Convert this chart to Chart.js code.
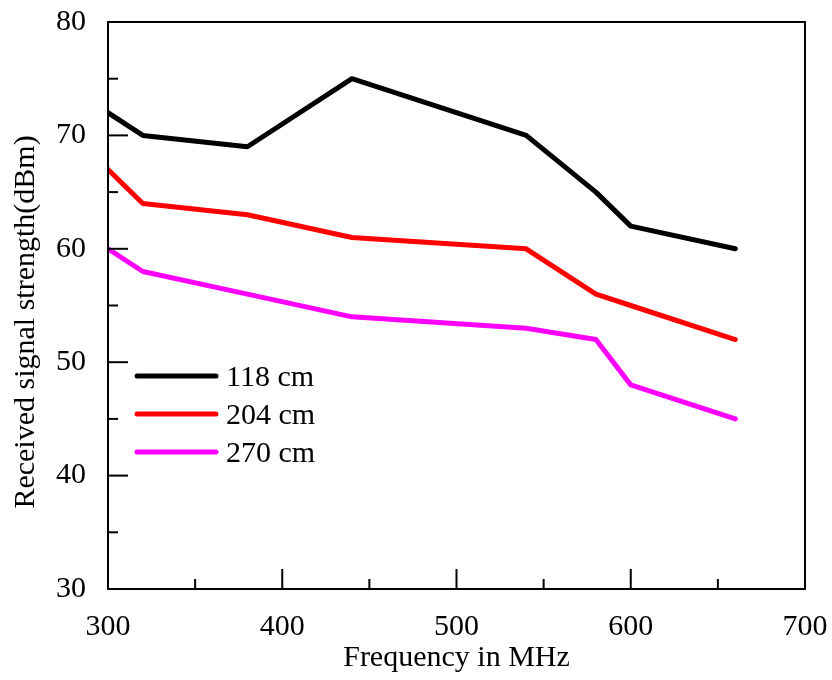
<!DOCTYPE html>
<html>
<head>
<meta charset="utf-8">
<script src="https://cdn.jsdelivr.net/npm/chart.js@4"></script>
<style>
  html, body { margin: 0; padding: 0; background: #fff; }
  #wrap { width: 832px; height: 680px; }
</style>
</head>
<body>
<div id="wrap"><canvas id="chart" width="832" height="680"></canvas></div>
<script>
const freqs = [300, 320, 380, 440, 540, 580, 600, 660];
const d118 = [72, 70, 69, 75, 70, 65, 62, 60];
const d204 = [67, 64, 63, 61, 60, 56, 55, 52];
const d270 = [60, 58, 56, 54, 53, 52, 48, 45];
const seriesNames = ["118 cm", "204 cm", "270 cm"];
const seriesColors = ["#000000", "#ff0000", "#ff00ff"];
const xTicks = [300, 400, 500, 600, 700];
const yTicks = [30, 40, 50, 60, 70, 80];
const yTitle = "Received signal strength(dBm)";

const FONT = "'Liberation Serif', 'Times New Roman', serif";

function toPoints(vals) {
  return freqs.map((f, i) => ({x: f, y: vals[i]}));
}

// frame, inward ticks, y title and legend
const decor = {
  id: "decor",
  afterDraw(chart) {
    const ctx = chart.ctx;
    const a = chart.chartArea;
    const xs = chart.scales.x, ys = chart.scales.y;
    ctx.save();
    ctx.strokeStyle = "#000";
    ctx.lineWidth = 2;
    ctx.strokeRect(a.left, a.top, a.right - a.left, a.bottom - a.top);

    for (let v = xTicks[0]; v <= xTicks[xTicks.length - 1]; v += 50) {
      const px = xs.getPixelForValue(v);
      const len = v % 100 === 0 ? 20 : 10;
      ctx.beginPath();
      ctx.moveTo(px, a.bottom);
      ctx.lineTo(px, a.bottom - len);
      ctx.stroke();
    }
    for (let v = yTicks[0]; v <= yTicks[yTicks.length - 1]; v += 5) {
      const py = ys.getPixelForValue(v);
      const len = v % 10 === 0 ? 20 : 10;
      ctx.beginPath();
      ctx.moveTo(a.left, py);
      ctx.lineTo(a.left + len, py);
      ctx.stroke();
    }

    // y title, sits a bit below the middle like the original
    ctx.font = "30px " + FONT;
    ctx.fillStyle = "#000";
    ctx.save();
    ctx.translate(26, 322);
    ctx.rotate(-Math.PI / 2);
    ctx.textAlign = "center";
    ctx.textBaseline = "middle";
    ctx.fillText(yTitle, 0, 0);
    ctx.restore();

    // legend
    ctx.textBaseline = "middle";
    ctx.textAlign = "left";
    chart.data.datasets.forEach((ds, i) => {
      const y = 376 + i * 38;
      ctx.strokeStyle = ds.borderColor;
      ctx.lineWidth = 5;
      ctx.lineCap = "round";
      ctx.beginPath();
      ctx.moveTo(137, y);
      ctx.lineTo(216, y);
      ctx.stroke();
      ctx.fillStyle = "#000";
      ctx.fillText(ds.label, 226, y + 2);
    });
    ctx.restore();
  }
};

new Chart(document.getElementById("chart"), {
  type: "line",
  data: {
    datasets: [d118, d204, d270].map((vals, i) => ({
      label: seriesNames[i],
      data: toPoints(vals),
      borderColor: seriesColors[i],
      backgroundColor: seriesColors[i],
      borderWidth: 5,
      pointRadius: 0,
      tension: 0,
      borderJoinStyle: "round",
      borderCapStyle: "round"
    }))
  },
  options: {
    responsive: false,
    animation: false,
    layout: { padding: { left: 0, right: 27, top: 22, bottom: 0 } },
    plugins: {
      legend: { display: false },
      tooltip: { enabled: false }
    },
    scales: {
      x: {
        type: "linear",
        min: 300,
        max: 700,
        afterFit: s => { s.height = 91; s.paddingLeft = 0; s.paddingRight = 0; },
        afterBuildTicks: s => { s.ticks = xTicks.map(v => ({value: v})); },
        grid: { display: false, drawTicks: false },
        border: { display: false },
        ticks: { color: "#000", font: { family: FONT, size: 30 }, padding: 20, maxRotation: 0 },
        title: { display: true, text: "Frequency in MHz", color: "#000", font: { family: FONT, size: 30 }, padding: { top: 0, bottom: 4 } }
      },
      y: {
        min: 30,
        max: 80,
        afterFit: s => { s.width = 108; s.paddingTop = 0; s.paddingBottom = 0; },
        afterBuildTicks: s => { s.ticks = yTicks.map(v => ({value: v})); },
        grid: { display: false, drawTicks: false },
        border: { display: false },
        ticks: { color: "#000", font: { family: FONT, size: 30 }, padding: 22 },
        title: { display: false }
      }
    }
  },
  plugins: [decor]
});
</script>
</body>
</html>
